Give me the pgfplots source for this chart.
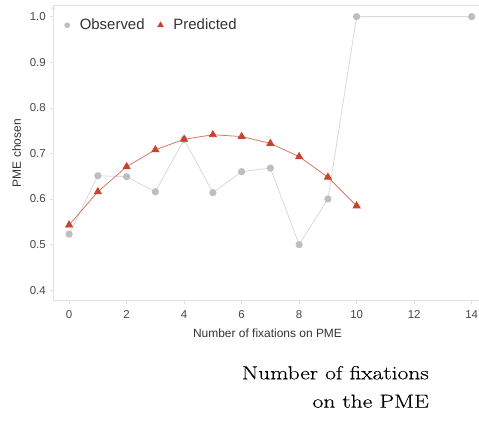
\documentclass[border=0pt]{standalone}
\usepackage{fontspec}
\setsansfont{Liberation Sans}
\newfontfamily\capfont[FakeStretch=1.24,FakeBold=0.25]{Latin Modern Roman}
\usepackage{pgfplots}
\pgfplotsset{compat=1.18}

\definecolor{obsmark}{RGB}{190,190,190}
\definecolor{obsline}{RGB}{218,218,218}
\definecolor{predmark}{RGB}{200,66,44}
\definecolor{predline}{RGB}{215,120,100}
\definecolor{frame}{RGB}{225,225,225}

\begin{document}
\begin{tikzpicture}[x=1bp,y=1bp]
\clip (0,0) rectangle (479,420);
\path[use as bounding box] (0,0) rectangle (479,420);
\begin{axis}[
    at={(53.3bp,119.3bp)}, anchor=south west,
    scale only axis,
    width=428.4bp, height=295bp,
    xmin=-0.55, xmax=14.35,
    ymin=0.377, ymax=1.024,
    axis x line=box, axis y line=left,
    axis line style={frame, line width=0.8pt},
    xtick={0,2,...,14},
    ytick={0.4,0.5,...,1.0},
    yticklabel style={/pgf/number format/fixed, /pgf/number format/fixed zerofill,
        /pgf/number format/precision=1, xshift=-1bp},
    /pgf/number format/assume math mode=true,
    ticklabel style={font=\sffamily\fontsize{11.5}{13}\selectfont, text=black!72},
    xticklabel style={yshift=-3bp},
    tick align=outside,
    major tick length=3bp,
    tick style={frame, line width=0.6pt},
    xtick pos=bottom, ytick pos=left,
    xlabel={Number of fixations on PME},
    ylabel={PME chosen},
    label style={font=\sffamily\fontsize{12}{14}\selectfont, text=black!80},
    xlabel style={yshift=-4bp},
    ylabel style={yshift=2bp},
    legend style={at={(rel axis cs:0.026,0.962)}, anchor=north west,
        draw=none, fill=none, inner sep=0pt,
        font=\sffamily\fontsize{15}{17}\selectfont, text=black!80,
        /tikz/every odd column/.append style={column sep=8bp},
        /tikz/every even column/.append style={column sep=11bp}},
    legend columns=2,
    legend cell align=left,
    legend image code/.code={\draw[#1] plot coordinates {(0.1cm,0cm)};},
]
\addlegendimage{only marks, mark=*, mark size=2.6pt, color=obsmark}
\addlegendimage{only marks, mark=triangle*, mark size=3.4pt, color=predmark}

\addplot[forget plot, obsline, line width=0.8pt, mark=*, mark size=3.2pt,
    mark options={draw=obsmark, fill=obsmark}] coordinates {
    (0,0.523) (1,0.651) (2,0.649) (3,0.616) (4,0.731) (5,0.614)
    (6,0.660) (7,0.668) (8,0.500) (9,0.600) (10,1.000) (14,1.000)
};
\addplot[forget plot, predline, line width=0.8pt, mark=triangle*, mark size=4pt,
    mark options={draw=predmark, fill=predmark}] coordinates {
    (0,0.543) (1,0.616) (2,0.671) (3,0.708) (4,0.731) (5,0.741)
    (6,0.737) (7,0.722) (8,0.693) (9,0.648) (10,0.585)
};
\legend{Observed, Predicted}
\end{axis}
\node[anchor=base east, inner sep=0pt, font=\capfont\fontsize{19}{21}\selectfont] at (429,40.7) {Number of fixations};
\node[anchor=base east, inner sep=0pt, font=\capfont\fontsize{19}{21}\selectfont] at (429,12.3) {on the PME};
\end{tikzpicture}
\end{document}
